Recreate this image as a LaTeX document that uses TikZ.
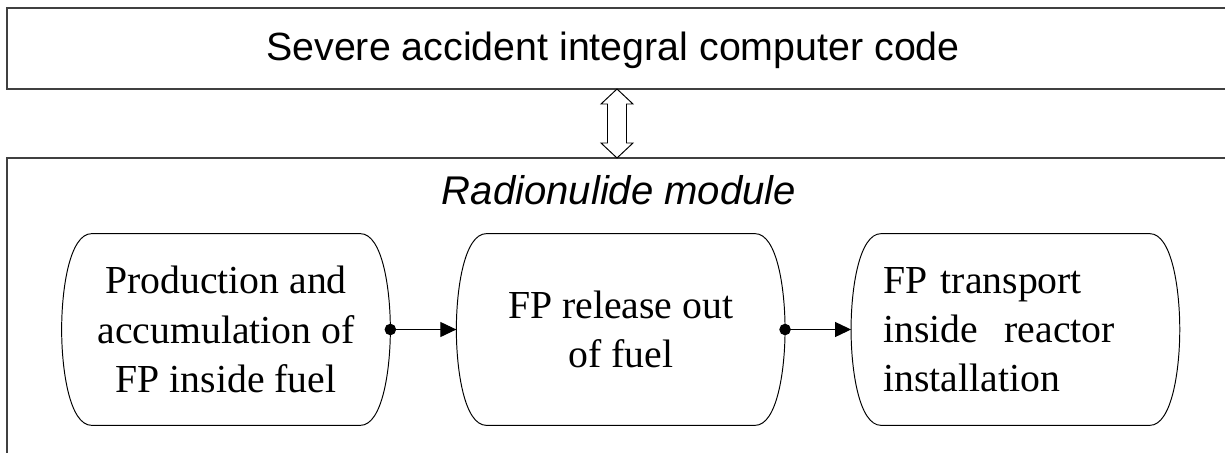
\documentclass[tikz,border=0pt]{standalone}
\usepackage{fontspec}
\setmainfont{Liberation Serif}
\newfontfamily\headfont{Liberation Sans}
\usetikzlibrary{arrows.meta,positioning}

\begin{document}
\begin{tikzpicture}[
    x=0.2mm, y=-0.2mm,
    node distance=1.32cm,
    frame/.style={draw=black!75, line width=0.9pt, inner sep=0pt},
    capsule/.style={minimum width=6.56cm, minimum height=3.82cm, inner sep=0pt, align=center, font=\fontsize{22.6}{28}\selectfont},
    outline/.style={line width=0.55pt},
    title/.style={font=\headfont\fontsize{22.4}{27}\selectfont},
    link/.style={{Circle[length=2.3mm]}-{Triangle[length=3.2mm,width=3mm]}, line width=0.6pt, shorten <=-1.15mm}
]
\useasboundingbox (0,0) rectangle (1225,452);
\clip (0,0) rectangle (1225,452);

% integral code and module frames
\node[frame, minimum width=24.66cm, minimum height=1.62cm] (code) at (623.5,48.5) {};
\node[title] (codetext) at (613,50) {Severe accident integral computer code};
\node[frame, minimum width=24.66cm, minimum height=6.24cm] (module) at (623.5,314) {};
\node[title, font=\headfont\itshape\fontsize{22.8}{27}\selectfont] (moduletext) at (619,190) {Radionulide module};

% hollow two-way arrow between code and module
\coordinate (exchange) at (617,123.5);
\draw[outline, shift={(exchange)}] (0,-34.5) -- (16,-19.5) -- (9.5,-19.5) -- (9.5,19.5) -- (16,19.5)
    -- (0,34.5) -- (-16,19.5) -- (-9.5,19.5) -- (-9.5,-19.5) -- (-16,-19.5) -- cycle;

% module stages
\node[capsule] (prod) at (226,329.5) {Production and\\accumulation of\\FP inside fuel};
\node[capsule, right=of prod] (release) {FP release out\\of fuel};
\node[capsule, right=of release, align=left, text width=5.28cm, inner xsep=6.4mm] (transport) {FP transport\\inside\ \ reactor\\installation};

\foreach \n in {prod,release,transport}
  \draw[outline] ([xshift=6mm]\n.north west) -- ([xshift=-6mm]\n.north east)
    .. controls ([xshift=-1.6mm]\n.north east) and ([yshift=-11mm]\n.north east) .. (\n.east)
    .. controls ([yshift=11mm]\n.south east) and ([xshift=-1.6mm]\n.south east) .. ([xshift=-6mm]\n.south east)
    -- ([xshift=6mm]\n.south west)
    .. controls ([xshift=1.6mm]\n.south west) and ([yshift=11mm]\n.south west) .. (\n.west)
    .. controls ([yshift=-11mm]\n.north west) and ([xshift=1.6mm]\n.north west) .. cycle;

\draw[link] (prod.east) -- (release.west);
\draw[link] (release.east) -- (transport.west);
\end{tikzpicture}
\end{document}
